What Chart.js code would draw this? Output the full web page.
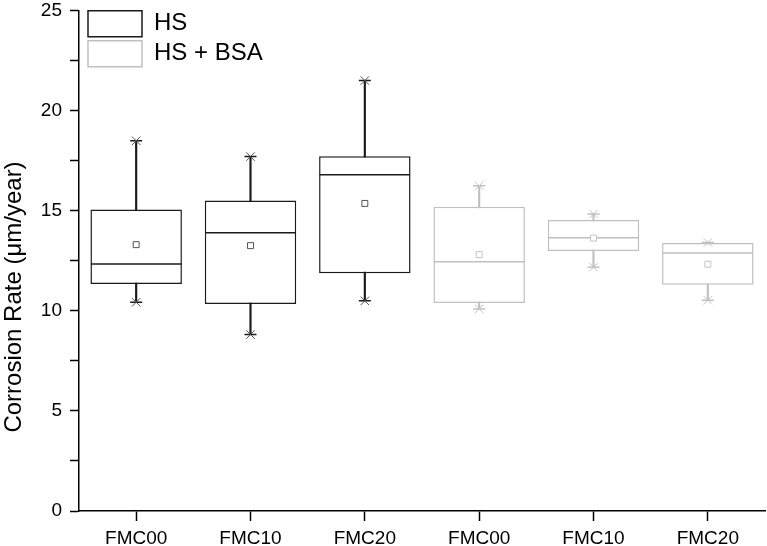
<!DOCTYPE html>
<html>
<head>
<meta charset="utf-8">
<script src="https://cdn.jsdelivr.net/npm/chart.js@4.4.1/dist/chart.umd.min.js"></script>
<style>
  html, body { margin: 0; padding: 0; background: #fff; }
  #wrap { width: 767px; height: 546px; }
</style>
</head>
<body>
<div id="wrap"><canvas id="corrosionChart"></canvas></div>
<script>
// categories (HS group first, then HS + BSA group)
const categories = ["FMC00", "FMC10", "FMC20", "FMC00", "FMC10", "FMC20"];
const yTickLabels = [0, 5, 10, 15, 20, 25];

// HS box statistics (µm/year)
const hsMin = [10.43, 8.82, 10.50];
const hsQ1 = [11.34, 10.34, 11.88];
const hsMedian = [12.34, 13.91, 16.80];
const hsQ3 = [15.07, 15.52, 17.73];
const hsMax = [18.50, 17.71, 21.51];
const hsMean = [13.31, 13.26, 15.37];

// HS + BSA box statistics (µm/year)
const bsaMin = [10.10, 12.18, 10.53];
const bsaQ1 = [10.39, 12.99, 11.31];
const bsaMedian = [12.46, 13.66, 12.89];
const bsaQ3 = [15.20, 14.54, 13.39];
const bsaMax = [16.25, 14.84, 13.42];
const bsaMean = [12.81, 13.64, 12.33];

const FONT = "'Liberation Sans', Arial, sans-serif";
const HS_COLOR = "#1a1a1a";
const BSA_COLOR = "#c0c0c0";

// put a 3-value series on its own group of the 6 categories
function place(values, offset) {
    const out = new Array(categories.length).fill(null);
    values.forEach((v, i) => { out[offset + i] = v; });
    return out;
}
function ranges(lo, hi, offset) {
    return place(lo.map((v, i) => [v, hi[i]]), offset);
}

// half of the box width, so the median line spans the box
function halfBox(ctx) {
    const x = ctx.chart.scales.x;
    return x.width / categories.length * 0.8 / 2 - 0.5;
}

function groupDatasets(label, color, markColor, offset, mn, q1, med, q3, mx, mean) {
    return [
        {
            type: "bar",
            label: label,
            data: ranges(q1, q3, offset),
            backgroundColor: "#ffffff",
            borderColor: color,
            borderWidth: 1.5,
            borderSkipped: false,
            grouped: false,
            categoryPercentage: 1,
            barPercentage: 0.8,
            order: 5,
        },
        {
            type: "bar",
            label: "_whisker",
            data: ranges(mn, mx, offset),
            backgroundColor: color,
            borderWidth: 0,
            grouped: false,
            barThickness: 1.5,
            order: 6,
        },
        {
            type: "line",
            label: "_median",
            data: place(med, offset),
            showLine: false,
            pointStyle: "line",
            pointRadius: halfBox,
            borderColor: color,
            borderWidth: 1.5,
            order: 4,
        },
        {
            type: "line",
            label: "_caps",
            data: place(mn, offset),
            showLine: false,
            pointStyle: "line",
            pointRadius: 6,
            borderColor: color,
            borderWidth: 1.5,
            order: 3,
        },
        {
            type: "line",
            label: "_caps",
            data: place(mx, offset),
            showLine: false,
            pointStyle: "line",
            pointRadius: 6,
            borderColor: color,
            borderWidth: 1.5,
            order: 3,
        },
        {
            type: "line",
            label: "_x",
            data: place(mn, offset),
            showLine: false,
            pointStyle: "crossRot",
            pointRadius: 6,
            borderColor: markColor,
            borderWidth: 1,
            order: 2,
        },
        {
            type: "line",
            label: "_x",
            data: place(mx, offset),
            showLine: false,
            pointStyle: "crossRot",
            pointRadius: 6,
            borderColor: markColor,
            borderWidth: 1,
            order: 2,
        },
        {
            type: "line",
            label: "_mean",
            data: place(mean, offset),
            showLine: false,
            pointStyle: "rect",
            pointRadius: 4.2,
            backgroundColor: "#ffffff",
            borderColor: markColor,
            borderWidth: 1,
            order: 1,
        },
    ];
}

const datasets = [
    ...groupDatasets("HS", HS_COLOR, "#555555", 0, hsMin, hsQ1, hsMedian, hsQ3, hsMax, hsMean),
    ...groupDatasets("HS + BSA", BSA_COLOR, "#c4c4c4", 3, bsaMin, bsaQ1, bsaMedian, bsaQ3, bsaMax, bsaMean),
];

// y title placed like the original, legend nudged into the plot corner
const sideTitle = {
    id: "sideTitle",
    afterLayout(chart) {
        const lg = chart.legend;
        const a = chart.chartArea;
        if (lg) {
            lg.left = a.left + 5;
            lg.top = a.top - 4;
        }
    },
    afterDraw(chart) {
        const ctx = chart.ctx;
        ctx.save();
        ctx.translate(21, 297);
        ctx.rotate(-Math.PI / 2);
        ctx.font = "24px " + FONT;
        ctx.fillStyle = "#000";
        ctx.textAlign = "center";
        ctx.textBaseline = "alphabetic";
        ctx.fillText("Corrosion Rate (μm/year)", 0, 0);
        ctx.restore();
    },
};

const ctx = document.getElementById("corrosionChart").getContext("2d");
new Chart(ctx, {
    type: "bar",
    data: {
        labels: categories,
        datasets: datasets,
    },
    options: {
        responsive: true,
        maintainAspectRatio: false,
        animation: false,
        events: [],
        layout: {
            autoPadding: false,
            padding: { top: 0, right: 2, left: 0, bottom: 0 },
        },
        plugins: {
            tooltip: { enabled: false },
            legend: {
                position: "chartArea",
                align: "start",
                labels: {
                    boxWidth: 54,
                    boxHeight: 26,
                    padding: 4,
                    color: "#000",
                    font: { family: FONT, size: 24 },
                    filter: (item) => item.text === "HS" || item.text === "HS + BSA",
                },
            },
        },
        scales: {
            x: {
                type: "category",
                offset: true,
                afterFit: (s) => { s.height = 35; },
                border: { display: true, color: "#000", width: 1.5 },
                grid: {
                    offset: false,
                    drawOnChartArea: false,
                    drawTicks: true,
                    tickLength: 10,
                    tickColor: "#000",
                    tickWidth: 1.5,
                },
                ticks: {
                    color: "#000",
                    padding: 6,
                    maxRotation: 0,
                    font: { family: FONT, size: 19 },
                },
            },
            y: {
                min: 0,
                max: 25,
                afterFit: (s) => {
                    s.width = 79;
                    s.paddingTop = 10.7;
                    s.paddingBottom = 0;
                },
                border: { display: true, color: "#000", width: 1.5 },
                grid: {
                    drawOnChartArea: false,
                    drawTicks: true,
                    tickLength: 9,
                    tickColor: "#000",
                    tickWidth: 1.5,
                },
                ticks: {
                    stepSize: 2.5,
                    color: "#000",
                    padding: 8,
                    font: { family: FONT, size: 19 },
                    callback: (v) => (yTickLabels.includes(v) ? v : ""),
                },
            },
        },
    },
    plugins: [sideTitle],
});
</script>
</body>
</html>
